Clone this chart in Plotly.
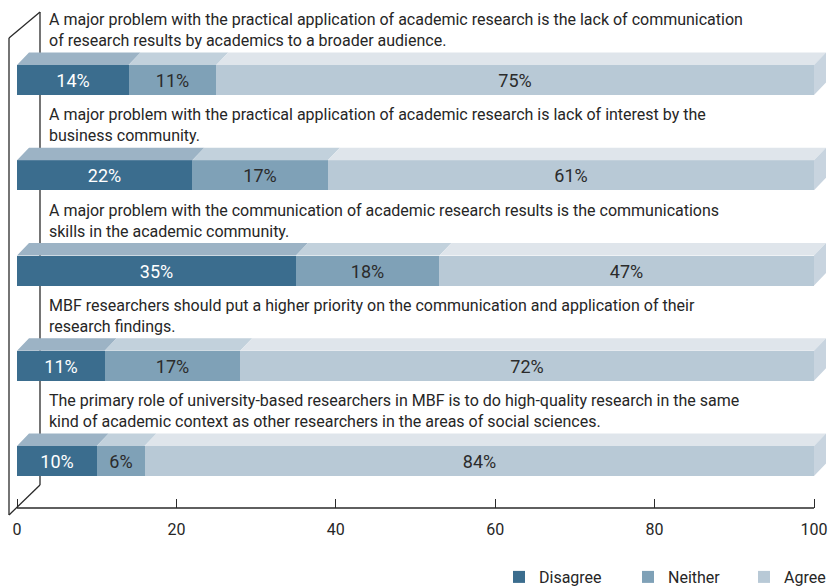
import plotly.graph_objects as go

# ---------------- data ----------------
questions = [
    "A major problem with the practical application of academic research is the lack of communication<br>of research results by academics to a broader audience.",
    "A major problem with the practical application of academic research is lack of interest by the<br>business community.",
    "A major problem with the communication of academic research results is the communications<br>skills in the academic community.",
    "MBF researchers should put a higher priority on the communication and application of their<br>research findings.",
    "The primary role of university-based researchers in MBF is to do high-quality research in the same<br>kind of academic context as other researchers in the areas of social sciences.",
]
disagree = [14, 22, 35, 11, 10]
neither = [11, 17, 18, 17, 6]
agree = [75, 61, 47, 72, 84]
series_names = ["Disagree", "Neither", "Agree"]
tick_values = [0, 20, 40, 60, 80, 100]

# ---------------- style ----------------
FONT = "Roboto, Noto Sans, sans-serif"
front_cols = ["#3b6d8e", "#7fa1b7", "#b8c9d6"]
top_cols = ["#9cb3c5", "#c2d1dc", "#dfe5eb"]
side_col = "#c8d4df"
label_cols = ["white", "#2b2b2b", "#2b2b2b"]
legend_left_px = [499, 628, 744]

W, H = 829, 586
L, R, T, B = 7, 1, 2, 78
PW, PH = W - L - R, H - T - B
x0px, x100px = 17, 814
scale = (x100px - x0px) / 100.0
xr = [(L - x0px) / scale, (L + PW - x0px) / scale]
y0px, ystep = 80.0, 95.25
yr = [(T + PH - y0px) / ystep, (T - y0px) / ystep]
bar_w = 30 / ystep
dx = 12 / scale
dy = 12.5 / ystep

def px(xp):
    return (xp - L) / PW

def py(yp):
    return (T + PH - yp) / PH

idx = list(range(len(questions)))
fig = go.Figure()

legend_ids = ["legend", "legend2", "legend3"]
series = [disagree, neither, agree]
for k, (name, vals) in enumerate(zip(series_names, series)):
    fig.add_trace(go.Bar(
        orientation="h", y=idx, x=vals, name=name, width=bar_w,
        marker=dict(color=front_cols[k], line=dict(width=0)),
        text=[f"{v}%" for v in vals], textposition="inside",
        insidetextanchor="middle", textangle=0,
        textfont=dict(color=label_cols[k], size=18, family=FONT),
        hoverinfo="skip", legend=legend_ids[k],
    ))

# top faces (3D)
for k, vals in enumerate(series):
    xs, ys = [], []
    for i in idx:
        start = sum(series[j][i] for j in range(k))
        end = start + vals[i]
        yt = i - bar_w / 2
        xs += [start, end, end + dx, start + dx, start, None]
        ys += [yt, yt, yt - dy, yt - dy, yt, None]
    fig.add_trace(go.Scatter(x=xs, y=ys, fill="toself", mode="lines",
                             line=dict(width=0), fillcolor=top_cols[k],
                             showlegend=False, hoverinfo="skip"))

# right end faces
xs, ys = [], []
for i in idx:
    end = disagree[i] + neither[i] + agree[i]
    yt, yb = i - bar_w / 2, i + bar_w / 2
    xs += [end, end + dx, end + dx, end, end, None]
    ys += [yt, yt - dy, yb - dy, yb, yt, None]
fig.add_trace(go.Scatter(x=xs, y=ys, fill="toself", mode="lines",
                         line=dict(width=0), fillcolor=side_col,
                         showlegend=False, hoverinfo="skip"))

# question texts
for i, q in enumerate(questions):
    fig.add_annotation(x=(47 - x0px) / scale, y=i - 50 / ystep, xref="x", yref="y",
                       text=q, showarrow=False, xanchor="left", yanchor="middle",
                       align="left", font=dict(size=16, color="#262626", family=FONT))

# wall frame & axis line
lc = "#2a2a2a"
shapes = [
    dict(type="line", x0=px(40), y0=py(12), x1=px(40), y1=py(485), layer="below"),
    dict(type="line", x0=px(9), y0=py(38), x1=px(9), y1=py(515)),
    dict(type="line", x0=px(9), y0=py(38), x1=px(40), y1=py(12)),
    dict(type="line", x0=px(9), y0=py(515), x1=px(40), y1=py(485)),
    dict(type="line", x0=px(x0px), y0=py(508), x1=px(x100px), y1=py(508)),
]
for s in shapes:
    s.update(xref="paper", yref="paper", line=dict(color=lc, width=1.3))
    fig.add_shape(**s)

leg_common = dict(orientation="h", xanchor="left", y=py(577), yanchor="middle",
                  font=dict(size=16, family=FONT, color="#262626"),
                  bgcolor="rgba(0,0,0,0)")
fig.update_layout(
    width=W, height=H, barmode="stack", bargap=0,
    margin=dict(l=L, r=R, t=T, b=B, autoexpand=False),
    paper_bgcolor="white", plot_bgcolor="white",
    font=dict(family=FONT, size=16, color="#262626"),
    xaxis=dict(range=xr, tickvals=tick_values, ticktext=[str(v) for v in tick_values],
               showgrid=False, zeroline=False, showline=False,
               ticks="inside", ticklen=9, tickcolor=lc, tickwidth=1.3,
               ticklabelstandoff=10, automargin=False,
               tickfont=dict(size=16, family=FONT, color="#262626")),
    yaxis=dict(range=yr, showticklabels=False, showgrid=False, zeroline=False,
               showline=False, ticks="", automargin=False),
    legend=dict(x=px(legend_left_px[0]), **leg_common),
    legend2=dict(x=px(legend_left_px[1]), **leg_common),
    legend3=dict(x=px(legend_left_px[2]), **leg_common),
    showlegend=True,
)

fig.write_html("out.html", config={"displayModeBar": False},
               post_script="document.body.style.margin='0';document.body.style.overflow='hidden';")
